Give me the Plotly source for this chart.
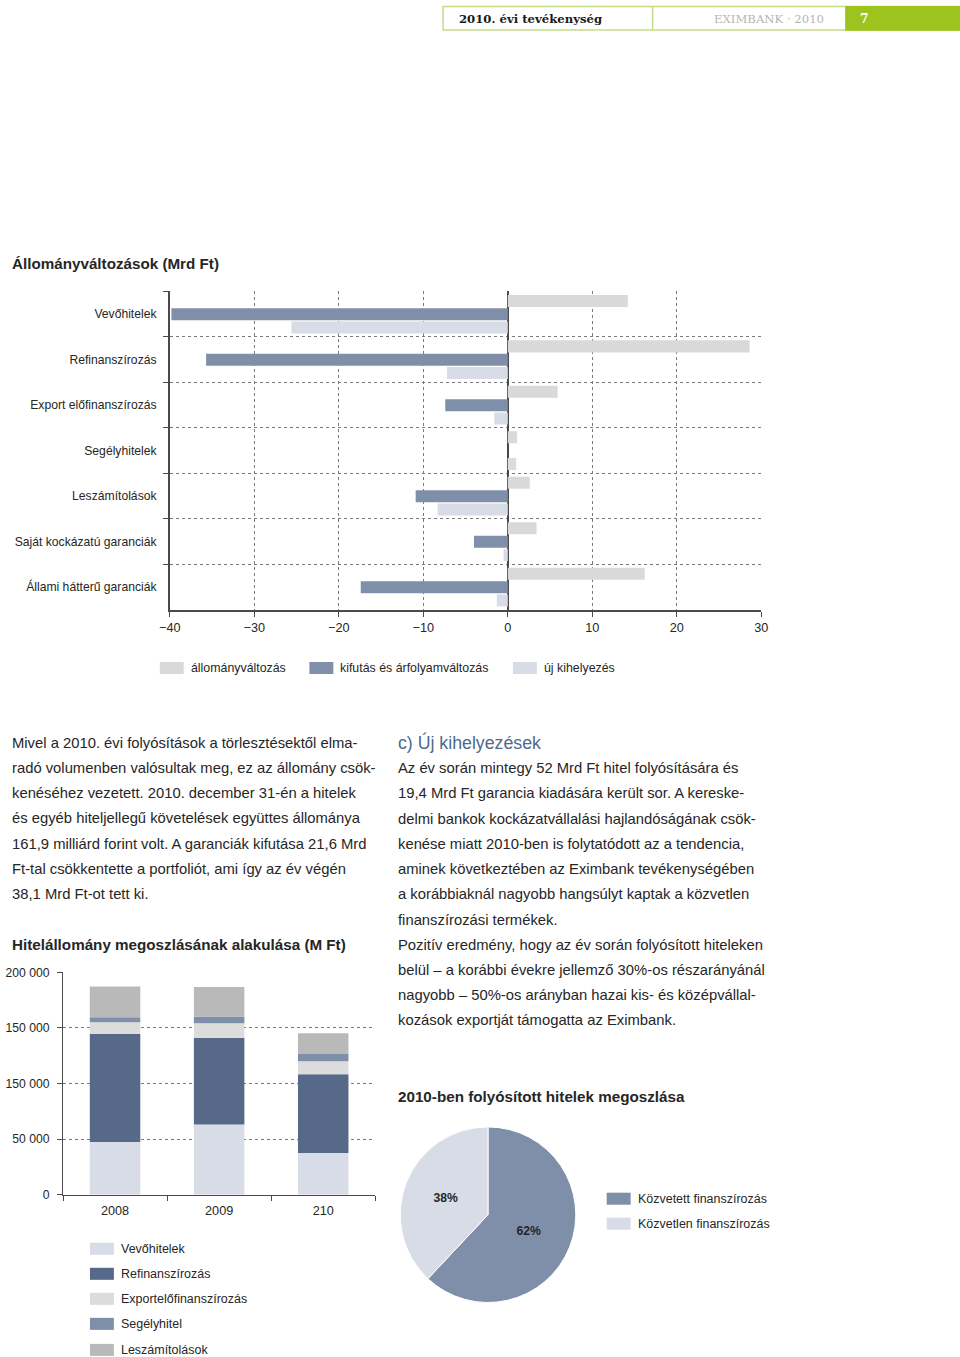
import numpy as np
import plotly.graph_objects as go

# The photographed page carries the browser's 8px body margin and is then scaled
# back to 960x1357, so page positions are converted to
# figure positions through this mapping.
W, H = 960, 1357
OFF = 8
SX = (W + 2 * OFF) / W
SY = (H + 2 * OFF) / H
FS = (SX + SY) / 2

# ---------------- data ----------------
cat1 = ["Vevőhitelek", "Refinanszírozás", "Export előfinanszírozás", "Segélyhitelek",
        "Leszámítolások", "Saját kockázatú garanciák", "Állami hátterű garanciák"]
allomanyvaltozas = [14.2, 28.6, 5.9, 1.1, 2.6, 3.4, 16.2]
kifutas = [-39.8, -35.7, -7.4, 0.0, -10.9, -4.0, -17.4]
uj_kihelyezes = [-25.6, -7.2, -1.6, 1.0, -8.3, -0.5, -1.3]
x1_ticks = [-40, -30, -20, -10, 0, 10, 20, 30]

years = ["2008", "2009", "210"]
vevohitelek = [47500, 63200, 37600]
refinanszirozas = [97100, 77900, 70700]
exportelofin = [10500, 13200, 11700]
segelyhitel = [4500, 6000, 6600]
leszamitolasok = [27700, 26500, 18600]
y2_tickvals = [0, 50000, 100000, 150000, 200000]
y2_ticktext = ["0", "50 000", "150 000", "150 000", "200 000"]

pie_labels = ["Közvetett finanszírozás", "Közvetlen finanszírozás"]
pie_values = [62, 38]

# ---------------- colors ----------------
C_GRAY = "#D9D9D9"
C_BLUE = "#7F8FAA"
C_LIGHT = "#D7DCE6"
C_DARK = "#566989"
C_MID = "#B9B9B9"
C_EXP = "#DCDCDC"
C_TXT = "#262626"
FONT = "Liberation Sans, Arial, sans-serif"


def fx(x):
    return x * SX - OFF


def fy(y):
    return y * SY - OFF


def px(x):
    return fx(x) / W


def py(y):
    return 1 - fy(y) / H


def f(s):
    return s * FS


fig = go.Figure()

# ---------------- chart 1: horizontal grouped bars ----------------
for name, vals, col in [("állományváltozás", allomanyvaltozas, C_GRAY),
                        ("kifutás és árfolyamváltozás", kifutas, C_BLUE),
                        ("új kihelyezés", uj_kihelyezes, C_LIGHT)]:
    fig.add_trace(go.Bar(y=cat1, x=vals, orientation="h", name=name,
                         marker=dict(color=col, line=dict(width=0)),
                         offsetgroup=name, xaxis="x", yaxis="y", showlegend=False))

# ---------------- chart 2: stacked bars (bases = running totals) ----------------
stack_series = [("Vevőhitelek", vevohitelek, C_LIGHT),
                ("Refinanszírozás", refinanszirozas, C_DARK),
                ("Exportelőfinanszírozás", exportelofin, C_EXP),
                ("Segélyhitel", segelyhitel, C_BLUE),
                ("Leszámítolások", leszamitolasok, C_MID)]
running = np.zeros(len(years))
for name, vals, col in stack_series:
    fig.add_trace(go.Bar(x=years, y=vals, base=running.tolist(), name=name, width=0.485,
                         marker=dict(color=col, line=dict(width=0)),
                         offsetgroup="stack", xaxis="x2", yaxis="y2", showlegend=False))
    running = running + np.array(vals, dtype=float)

# ---------------- pie ----------------
fig.add_trace(go.Pie(labels=pie_labels, values=pie_values, sort=False, direction="clockwise",
                     rotation=0, marker=dict(colors=[C_BLUE, C_LIGHT], line=dict(color="white", width=1)),
                     texttemplate="<b>%{percent:.0%}</b>", textposition="inside",
                     insidetextfont=dict(family=FONT, size=f(12), color=C_TXT),
                     domain=dict(x=[px(398), px(574)], y=[py(1302), py(1126)]),
                     showlegend=False, hoverinfo="label+percent"))

fig.update_layout(
    width=W, height=H, margin=dict(l=0, r=0, t=0, b=0),
    paper_bgcolor="white", plot_bgcolor="white",
    barmode="group", bargap=0.12, bargroupgap=0.1,
    font=dict(family=FONT, size=f(12), color=C_TXT),
    xaxis=dict(domain=[px(167), px(760)], anchor="y", range=[-40, 30],
               tickvals=x1_ticks, showgrid=True, gridcolor="#7a7a7a", griddash="dot", gridwidth=1,
               zeroline=True, zerolinecolor="#4a4a4a", zerolinewidth=1.5,
               showline=True, linecolor="#4a4a4a", linewidth=1.5,
               ticks="outside", ticklen=5, tickcolor="#4a4a4a",
               tickfont=dict(size=f(12.5), color=C_TXT), fixedrange=True),
    yaxis=dict(domain=[py(610), py(292)], anchor="x", autorange="reversed",
               type="category", tickson="boundaries",
               showgrid=True, gridcolor="#7a7a7a", griddash="dot", gridwidth=1,
               showline=True, linecolor="#4a4a4a", linewidth=1.5,
               ticks="outside", ticklen=5, tickcolor="#4a4a4a",
               ticklabelstandoff=9,
               tickfont=dict(size=f(12), color=C_TXT), fixedrange=True),
    xaxis2=dict(domain=[px(60), px(373)], anchor="y2", type="category", tickson="boundaries",
                showgrid=False, showline=True, linecolor="#4a4a4a", linewidth=1.2,
                ticks="outside", ticklen=5, tickcolor="#4a4a4a", ticklabelstandoff=4,
                tickfont=dict(size=f(12.5), color=C_TXT), fixedrange=True),
    yaxis2=dict(domain=[py(1194), py(972)], anchor="x2", range=[0, 200000],
                tickvals=y2_tickvals, ticktext=y2_ticktext,
                showgrid=True, gridcolor="#7a7a7a", griddash="dot", gridwidth=1,
                zeroline=False, showline=True, linecolor="#4a4a4a", linewidth=1.2,
                ticks="outside", ticklen=5, tickcolor="#4a4a4a", ticklabelstandoff=5,
                tickfont=dict(size=f(12), color=C_TXT), fixedrange=True),
)

shapes = []
annots = []


def text(x, y, s, size=15, color=C_TXT, anchor="left", family=FONT):
    annots.append(dict(x=max(px(x), 0), y=py(y), xref="paper", yref="paper", text=s, showarrow=False,
                       xanchor=anchor, yanchor="middle", borderpad=0,
                       font=dict(size=f(size), color=color, family=family)))


def swatch(x0, yc, col, w=24, h=12):
    shapes.append(dict(type="rect", xref="paper", yref="paper", x0=px(x0), x1=px(x0 + w),
                       y0=py(yc + h / 2), y1=py(yc - h / 2), fillcolor=col, line=dict(width=0)))


# ---------------- header ----------------
GREEN = "#9DC31E"
GREEN_L = "#C6DB8A"
shapes.append(dict(type="rect", xref="paper", yref="paper", x0=px(441), x1=px(962), y0=py(31), y1=py(7.5),
                   fillcolor="white", line=dict(color=GREEN_L, width=1.5)))
shapes.append(dict(type="line", xref="paper", yref="paper", x0=px(651), x1=px(651), y0=py(31), y1=py(7.5),
                   line=dict(color=GREEN_L, width=1.5)))
shapes.append(dict(type="rect", xref="paper", yref="paper", x0=px(844), x1=px(962), y0=py(31.5), y1=py(7),
                   fillcolor=GREEN, line=dict(width=0)))
SERIF = "DejaVu Serif, serif"
text(456, 19.5, "<b>2010. évi tevékenység</b>", size=11.5, color="#1a1a1a", family=SERIF)
text(768, 19.5, "EXIMBANK · 2010", size=11.5, color="#B5B5B5", anchor="center", family=SERIF)
text(858, 19.5, "<b>7</b>", size=12, color="white", family=SERIF)

# ---------------- titles ----------------
text(1, 264, "<b>Állományváltozások (Mrd Ft)</b>", size=15)
text(1, 944, "<b>Hitelállomány megoszlásának alakulása (M Ft)</b>", size=15)
text(395, 1096, "<b>2010-ben folyósított hitelek megoszlása</b>", size=15)
text(395, 742, "c) Új kihelyezések", size=17.5, color="#4E6A8E")

# ---------------- legends ----------------
for x0, col, lab in [(157, C_GRAY, "állományváltozás"), (307, C_BLUE, "kifutás és árfolyamváltozás"),
                     (511, C_LIGHT, "új kihelyezés")]:
    swatch(x0, 668, col)
    text(x0 + 30, 668, lab, size=12.2)

for yc, col, lab in [(1248, C_LIGHT, "Vevőhitelek"), (1273, C_DARK, "Refinanszírozás"),
                     (1298, C_EXP, "Exportelőfinanszírozás"), (1323, C_BLUE, "Segélyhitel"),
                     (1349, C_MID, "Leszámítolások")]:
    swatch(87, yc, col)
    text(117, yc, lab, size=12.3)

for yc, col, lab in [(1198, C_BLUE, "Közvetett finanszírozás"), (1223, C_LIGHT, "Közvetlen finanszírozás")]:
    swatch(605, yc, col)
    text(635, yc, lab, size=12.3)

# ---------------- body text ----------------
left_lines = [
    "Mivel a 2010. évi folyósítások a törlesztésektől elma-",
    "radó volumenben valósultak meg, ez az állomány csök-",
    "kenéséhez vezetett. 2010. december 31-én a hitelek",
    "és egyéb hiteljellegű követelések együttes állománya",
    "161,9 milliárd forint volt. A garanciák kifutása 21,6 Mrd",
    "Ft-tal csökkentette a portfoliót, ami így az év végén",
    "38,1 Mrd Ft-ot tett ki.",
]
for i, s in enumerate(left_lines):
    text(1, 743 + 25.1 * i, s, size=14.6)

right_lines = [
    "Az év során mintegy 52 Mrd Ft hitel folyósítására és",
    "19,4 Mrd Ft garancia kiadására került sor. A kereske-",
    "delmi bankok kockázatvállalási hajlandóságának csök-",
    "kenése miatt 2010-ben is folytatódott az a tendencia,",
    "aminek következtében az Eximbank tevékenységében",
    "a korábbiaknál nagyobb hangsúlyt kaptak a közvetlen",
    "finanszírozási termékek.",
    "Pozitív eredmény, hogy az év során folyósított hiteleken",
    "belül – a korábbi évekre jellemző 30%-os részarányánál",
    "nagyobb – 50%-os arányban hazai kis- és középvállal-",
    "kozások exportját támogatta az Eximbank.",
]
for i, s in enumerate(right_lines):
    text(395, 768 + 25.2 * i, s, size=14.6)

fig.update_layout(shapes=shapes, annotations=annots)
fig.write_html("out.html")
